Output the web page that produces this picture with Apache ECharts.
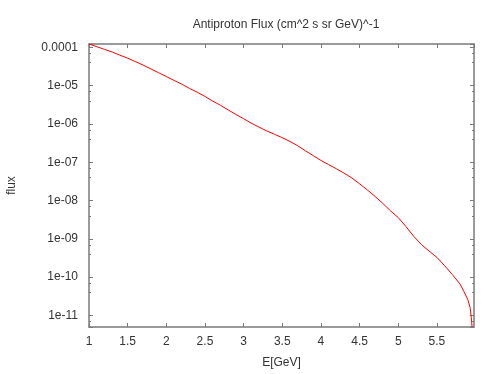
<!DOCTYPE html>
<html>
<head>
<meta charset="utf-8">
<title>Antiproton Flux</title>
<script src="https://cdn.jsdelivr.net/npm/echarts@6/dist/echarts.min.js"></script>
<style>
  html, body { margin: 0; padding: 0; background: #fff; }
  #chart { width: 498px; height: 374px; }
</style>
</head>
<body>
<div id="chart"></div>
<script>
// energy in GeV
const energy = [
  1.0, 1.1, 1.2, 1.3, 1.4, 1.5, 1.6, 1.7, 1.8, 1.9,
  2.0, 2.1, 2.2, 2.3, 2.4, 2.5, 2.6, 2.7, 2.8, 2.9,
  3.0, 3.1, 3.2, 3.3, 3.4, 3.5, 3.6, 3.7, 3.8, 3.9,
  4.0, 4.1, 4.2, 4.3, 4.4, 4.5, 4.6, 4.7, 4.8, 4.9,
  5.0, 5.1, 5.2, 5.3, 5.4, 5.5, 5.6, 5.7, 5.8, 5.85,
  5.9, 5.93, 5.945, 5.955
];
// flux (cm^2 s sr GeV)^-1
const flux = [
  1.23e-4, 1.05e-4, 8.9e-5, 7.6e-5, 6.3e-5, 5.25e-5, 4.27e-5, 3.47e-5, 2.75e-5, 2.19e-5,
  1.74e-5, 1.38e-5, 1.10e-5, 8.5e-6, 6.8e-6, 5.25e-6, 3.98e-6, 3.09e-6, 2.34e-6, 1.78e-6,
  1.38e-6, 1.05e-6, 8.3e-7, 6.6e-7, 5.4e-7, 4.4e-7, 3.5e-7, 2.7e-7, 2.0e-7, 1.5e-7,
  1.12e-7, 8.7e-8, 6.8e-8, 5.2e-8, 3.9e-8, 2.75e-8, 1.9e-8, 1.29e-8, 8.5e-9, 5.4e-9,
  3.6e-9, 2.1e-9, 1.17e-9, 7.1e-10, 4.8e-10, 3.3e-10, 2.0e-10, 1.17e-10, 6.6e-11, 4.2e-11,
  2.6e-11, 1.6e-11, 8.9e-12, 5.0e-12
];
const xMin = 1, xMax = 5.98, xStep = 0.5;
const yMin = 5e-12, yMax = 1.23e-4;

const points = energy.map((e, i) => [e, flux[i]]);

const fontFamily = '"Liberation Sans", Arial, sans-serif';
const textColor = '#333';
const frameColor = '#7a7a7a';

// gnuplot style labels: 0.0001, 1e-05, 1e-06 ...
const logLabel = (v) => {
  const e = Math.round(Math.log10(v));
  if (e >= -4) return Math.pow(10, e).toFixed(-e);
  return '1e-' + String(-e).padStart(2, '0');
};

const frameLine = { show: true, lineStyle: { color: frameColor, width: 1.5 } };
const majorTick = { show: true, inside: true, length: 4, lineStyle: { color: frameColor } };
const minorTick = { show: true, splitNumber: 3, length: 2, lineStyle: { color: frameColor } };

const myChart = echarts.init(document.getElementById('chart'));
const option = {
  animation: false,
  backgroundColor: '#fff',
  title: {
    text: 'Antiproton Flux (cm^2 s sr GeV)^-1',
    left: 281,
    top: 14,
    textAlign: 'center',
    textStyle: { fontFamily, fontSize: 12, fontWeight: 'normal', color: textColor }
  },
  grid: { left: 89, right: 24, top: 44, bottom: 47, containLabel: false, outerBoundsMode: 'none' },
  xAxis: [
    {
      type: 'value',
      min: xMin, max: xMax, interval: xStep,
      name: 'E[GeV]', nameLocation: 'middle', nameGap: 30,
      nameTextStyle: { fontFamily, fontSize: 12, color: textColor },
      axisLine: frameLine,
      axisTick: majorTick,
      splitLine: { show: false },
      axisLabel: { fontFamily, fontSize: 12, color: textColor, margin: 9, showMaxLabel: false }
    },
    {
      type: 'value', position: 'top',
      min: xMin, max: xMax, interval: xStep,
      axisLine: frameLine,
      axisTick: majorTick,
      splitLine: { show: false },
      axisLabel: { show: false }
    }
  ],
  yAxis: [
    {
      type: 'log', logBase: 10,
      min: yMin, max: yMax, splitNumber: 7,
      name: 'flux', nameLocation: 'middle', nameGap: 71,
      nameTextStyle: { fontFamily, fontSize: 12, color: textColor },
      axisLine: frameLine,
      axisTick: majorTick,
      minorTick: minorTick,
      splitLine: { show: false },
      axisLabel: {
        fontFamily, fontSize: 12, color: textColor, margin: 11,
        showMinLabel: false, showMaxLabel: false,
        formatter: logLabel
      }
    },
    {
      type: 'log', logBase: 10, position: 'right',
      min: yMin, max: yMax, splitNumber: 7,
      axisLine: frameLine,
      axisTick: majorTick,
      minorTick: minorTick,
      splitLine: { show: false },
      axisLabel: { show: false }
    }
  ],
  series: [
    {
      type: 'line',
      xAxisIndex: 0,
      yAxisIndex: 0,
      data: points,
      showSymbol: false,
      smooth: false,
      lineStyle: { color: '#ff0000', width: 1 },
      clip: true
    }
  ]
};
option && myChart.setOption(option);
</script>
</body>
</html>
